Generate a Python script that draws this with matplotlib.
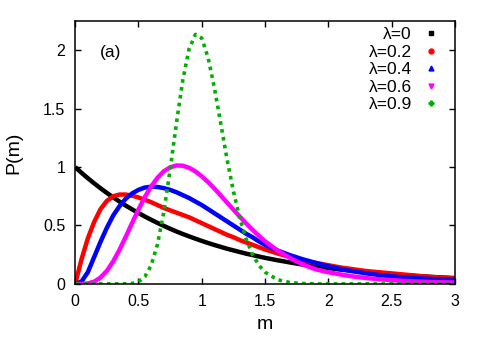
import matplotlib
matplotlib.use("Agg")
import matplotlib.pyplot as plt
from matplotlib.lines import Line2D

plt.rcParams['font.family'] = ['Liberation Sans', 'DejaVu Sans']

# --- Data ---
m = [0, 0.05, 0.1, 0.15, 0.2, 0.25, 0.3, 0.35, 0.4, 0.45, 0.5, 0.55, 0.6, 0.65,
     0.7, 0.75, 0.8, 0.85, 0.9, 0.95, 1.0, 1.05, 1.1, 1.15, 1.2, 1.25, 1.3, 1.35,
     1.4, 1.45, 1.5, 1.6, 1.7, 1.8, 1.9, 2.0, 2.1, 2.2, 2.3, 2.4, 2.5, 2.6, 2.7,
     2.8, 2.9, 3.0]

p_lam0 = [1.0, 0.951, 0.905, 0.861, 0.819, 0.779, 0.741, 0.705, 0.670, 0.638,
          0.607, 0.577, 0.549, 0.522, 0.497, 0.472, 0.449, 0.427, 0.407, 0.387,
          0.368, 0.350, 0.333, 0.317, 0.301, 0.287, 0.273, 0.259, 0.247, 0.235,
          0.223, 0.202, 0.183, 0.165, 0.150, 0.135, 0.122, 0.111, 0.100, 0.091,
          0.082, 0.074, 0.067, 0.061, 0.055, 0.050]

p_lam02 = [0.0, 0.21, 0.39, 0.53, 0.64, 0.71, 0.75, 0.765, 0.765, 0.755,
           0.74, 0.72, 0.70, 0.675, 0.65, 0.63, 0.61, 0.59, 0.57, 0.545,
           0.52, 0.495, 0.47, 0.445, 0.42, 0.40, 0.375, 0.355, 0.335, 0.315,
           0.295, 0.26, 0.23, 0.20, 0.18, 0.16, 0.14, 0.125, 0.11, 0.10,
           0.09, 0.08, 0.07, 0.06, 0.053, 0.047]

p_lam04 = [0.0, 0.02, 0.10, 0.23, 0.36, 0.48, 0.585, 0.665, 0.73, 0.775,
           0.805, 0.825, 0.832, 0.83, 0.82, 0.805, 0.785, 0.76, 0.735, 0.705,
           0.675, 0.64, 0.605, 0.57, 0.535, 0.50, 0.465, 0.43, 0.40, 0.365,
           0.335, 0.285, 0.245, 0.21, 0.18, 0.15, 0.127, 0.107, 0.09, 0.076,
           0.065, 0.056, 0.049, 0.043, 0.038, 0.034]

p_lam06 = [0.0, 0.0, 0.004, 0.019, 0.054, 0.111, 0.192, 0.292, 0.405, 0.522,
           0.637, 0.743, 0.834, 0.908, 0.964, 0.998, 1.014, 1.012, 0.994, 0.963,
           0.921, 0.872, 0.816, 0.757, 0.696, 0.636, 0.576, 0.519, 0.464, 0.413,
           0.365, 0.285, 0.22, 0.165, 0.125, 0.10, 0.08, 0.063, 0.05, 0.04,
           0.032, 0.026, 0.021, 0.017, 0.014, 0.012]

p_lam09 = [0.0, 0.0, 0.0, 0.0, 0.0, 0.0, 0.0, 0.0, 0.001, 0.004,
           0.019, 0.061, 0.158, 0.338, 0.614, 0.977, 1.376, 1.744, 2.012, 2.136,
           2.104, 1.937, 1.677, 1.374, 1.065, 0.794, 0.564, 0.386, 0.254, 0.161,
           0.100, 0.035, 0.011, 0.003, 0.0, 0.0, 0.0, 0.0, 0.0, 0.0,
           0.0, 0.0, 0.0, 0.0, 0.0, 0.0]

labels = ['λ=0', 'λ=0.2', 'λ=0.4', 'λ=0.6', 'λ=0.9']
colors = ['black', '#ff0000', '#0000ff', '#ff00ff', '#00b000']
markers = ['s', 'o', '^', 'v', 'P']
series = [p_lam0, p_lam02, p_lam04, p_lam06, p_lam09]

xticks = [0, 0.5, 1, 1.5, 2, 2.5, 3]
yticks = [0, 0.5, 1, 1.5, 2]

# --- Plotting ---
fig = plt.figure(figsize=(4.85, 3.4), dpi=100)
ax = fig.add_axes([0.155, 0.165, 0.783, 0.773])

for p, c in zip(series[:4], colors[:4]):
    ax.plot(m, p, color=c, lw=3.2, solid_capstyle='butt')
# the narrow peak was drawn with sparse points
ax.plot(m, series[4], color=colors[4], lw=2.6, linestyle=(0, (1, 1.2)))

ax.set_xlim(0, 3)
ax.set_ylim(0, 2.25)
ax.set_xticks(xticks)
ax.set_yticks(yticks)
ax.set_xticklabels(['%g' % t for t in xticks])
ax.set_yticklabels(['%g' % t for t in yticks])
ax.tick_params(direction='in', length=4, width=1, top=True, right=True,
               labelsize=11.5, pad=7)
for s in ax.spines.values():
    s.set_linewidth(1.1)

ax.set_xlabel('m', fontsize=14, labelpad=5)
ax.set_ylabel('P(m)', fontsize=14, labelpad=15)
ax.text(0.066, 0.882, '(a)', transform=ax.transAxes, fontsize=12.5, va='center')

handles = [Line2D([], [], color=c, marker=mk, linestyle='None', markersize=3.5)
           for c, mk in zip(colors, markers)]
ax.legend(handles, labels, loc='upper right', bbox_to_anchor=(0.973, 1.003),
          frameon=False, markerfirst=False, handlelength=0.8, handletextpad=0.7,
          labelspacing=0.13, fontsize=12.5, borderaxespad=0.0)

fig.savefig('out.png', dpi=100)
